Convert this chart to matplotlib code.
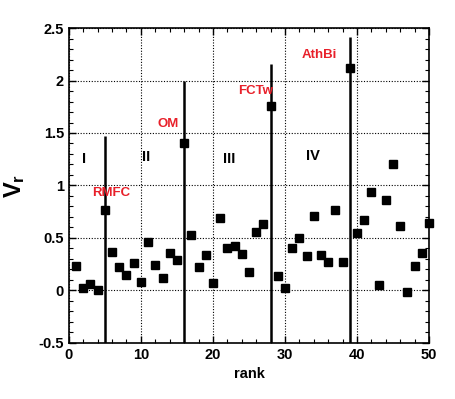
import matplotlib.pyplot as plt
import numpy as np

plt.rcParams['font.family'] = ['Liberation Sans', 'DejaVu Sans']
plt.rcParams['font.weight'] = 'bold'
plt.rcParams['mathtext.fontset'] = 'custom'
plt.rcParams['mathtext.bf'] = 'Liberation Sans:bold'
plt.rcParams['mathtext.rm'] = 'Liberation Sans:bold'

# rank vs ratio values
rank = np.arange(1, 51)
vr = [0.23, 0.02, 0.06, 0.00, 0.77, 0.37, 0.22, 0.15, 0.26, 0.08,
      0.46, 0.24, 0.12, 0.36, 0.29, 1.40, 0.53, 0.22, 0.34, 0.07,
      0.69, 0.40, 0.42, 0.35, 0.18, 0.56, 0.63, 1.76, 0.135, 0.02,
      0.40, 0.50, 0.33, 0.71, 0.34, 0.27, 0.77, 0.27, 2.12, 0.55,
      0.67, 0.94, 0.05, 0.86, 1.20, 0.61, -0.01, 0.23, 0.36, 0.64]

# error bars on the labelled cases (bottom runs off the axis)
bar_rank = [5, 16, 28, 39]
bar_top = [1.47, 2.00, 2.16, 2.41]
bar_bottom = [-0.6, -0.6, -0.6, -0.6]

names = ['RMFC', 'OM', 'FCTw', 'AthBi']
name_x = [5.9, 13.8, 25.9, 34.8]
name_y = [0.93, 1.59, 1.90, 2.24]

groups = ['I', 'II', 'III', 'IV']
group_x = [2.1, 10.7, 22.2, 33.9]
group_y = [1.25, 1.27, 1.255, 1.28]

fig = plt.figure(figsize=(4.56, 3.99), dpi=100)
ax = fig.add_axes([0.151, 0.1404, 0.79, 0.7894])

ax.vlines(bar_rank, bar_bottom, bar_top, colors='black', linewidth=1.8, zorder=2)
ax.plot(rank, vr, 's', color='black', markersize=5.8, zorder=3, clip_on=False)

for n, x, y in zip(names, name_x, name_y):
    ax.text(x, y, n, color='#e8202a', fontsize=9.5, fontweight='bold', ha='center', va='center')
for g, x, y in zip(groups, group_x, group_y):
    ax.text(x, y, g, color='black', fontsize=10.5, fontweight='bold', ha='center', va='center')

ax.set_xlim(0, 50)
ax.set_ylim(-0.5, 2.5)
ax.set_xticks(np.arange(0, 51, 10))
ax.set_xticks(np.arange(0, 51, 2), minor=True)
ax.set_yticks(np.arange(-0.5, 2.51, 0.5))
ax.set_yticklabels(['-0.5', '0', '0.5', '1', '1.5', '2', '2.5'])
ax.set_yticks(np.arange(-0.5, 2.51, 0.1), minor=True)
ax.tick_params(which='both', direction='in', top=True, right=True, labelsize=10.5)
ax.tick_params(which='major', length=5, width=1)
ax.tick_params(which='minor', length=3, width=0.8)
ax.grid(True, which='major', linestyle=(0, (1, 1.5)), color='black', linewidth=0.8)
ax.set_axisbelow(True)
for s in ax.spines.values():
    s.set_linewidth(1.2)

ax.set_xlabel('rank', fontsize=10.5, fontweight='bold')
ax.set_ylabel(r'$\mathbf{V_r}$', fontsize=17, labelpad=8)

fig.savefig('out.png', dpi=100)
